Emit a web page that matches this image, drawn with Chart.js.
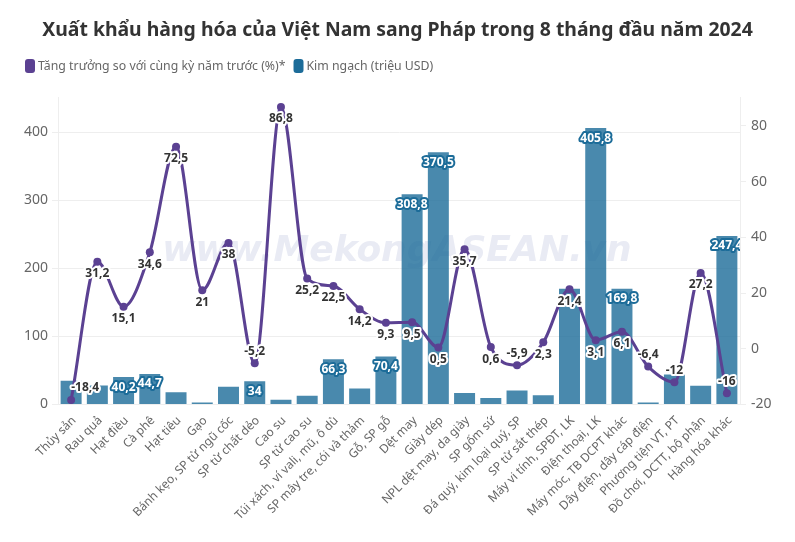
<!DOCTYPE html>
<html>
<head>
<meta charset="utf-8">
<script src="https://cdn.jsdelivr.net/npm/chart.js@4"></script>
<style>
  html, body { margin: 0; padding: 0; background: #fff; }
  canvas { display: block; }
</style>
</head>
<body>
<canvas id="myChart" width="795" height="542"></canvas>
<script>
const categories = ['Thủy sản', 'Rau quả', 'Hạt điều', 'Cà phê', 'Hạt tiêu', 'Gạo', 'Bánh kẹo, SP từ ngũ cốc', 'SP từ chất dẻo', 'Cao su', 'SP từ cao su', 'Túi xách, ví vali, mũ, ô dù', 'SP mây tre, cói và thảm', 'Gỗ, SP gỗ', 'Dệt may', 'Giày dép', 'NPL dệt may, da giày', 'SP gốm sứ', 'Đá quý, kim loại quý, SP', 'SP từ sắt thép', 'Máy vi tính, SPĐT, LK', 'Điện thoại, LK', 'Máy móc, TB DCPT khác', 'Dây điện, dây cáp điện', 'Phương tiện VT, PT', 'Đồ chơi, DCTT, bộ phận', 'Hàng hóa khác'];
const growth = [-18.4, 31.2, 15.1, 34.6, 72.5, 21, 38, -5.2, 86.8, 25.2, 22.5, 14.2, 9.3, 9.5, 0.5, 35.7, 0.6, -5.9, 2.3, 21.4, 3.1, 6.1, -6.4, -12, 27.2, -16];
const turnover = [35, 28, 40.2, 44.7, 18, 3, 26, 34, 7, 13, 66.3, 23.5, 70.4, 308.8, 370.5, 17, 9.5, 20.5, 13.5, 170, 405.8, 169.8, 3, 44, 27.5, 247.4];
const leftTicks = [0, 100, 200, 300, 400];
const rightTicks = [-20, 0, 20, 40, 60, 80];
// these bar labels are covered by the line labels in the original
const hiddenBarLabels = [0, 1, 19, 23];

const FONT = '"Noto Sans", sans-serif';
const PURPLE = '#5b4192';
const BLUE = '#1c6c99';

function fmt(v) {
  return String(v).replace('.', ',');
}

function haloText(ctx, text, x, y, halo, fill) {
  ctx.lineJoin = 'round';
  ctx.lineWidth = 4;
  ctx.strokeStyle = halo;
  ctx.strokeText(text, x, y);
  ctx.fillStyle = fill;
  ctx.fillText(text, x, y);
}

// watermark sits behind the bars
const watermark = {
  id: 'watermark',
  beforeDatasetsDraw(chart) {
    const ctx = chart.ctx;
    ctx.save();
    ctx.font = 'italic bold 36px "DejaVu Sans", sans-serif';
    ctx.fillStyle = '#e9ebf4';
    ctx.textAlign = 'center';
    ctx.textBaseline = 'middle';
    ctx.fillText('www.MekongASEAN.vn', 397, 252);
    ctx.restore();
  }
};

// no datalabels plugin on hand, so draw value labels here
const valueLabels = {
  id: 'valueLabels',
  afterDatasetsDraw(chart) {
    const ctx = chart.ctx;
    const area = chart.chartArea;
    ctx.save();
    ctx.textAlign = 'center';
    ctx.textBaseline = 'middle';
    ctx.font = 'bold 12px ' + FONT;

    ctx.save();
    ctx.beginPath();
    ctx.rect(area.left, area.top, area.right - area.left, area.bottom - area.top);
    ctx.clip();
    chart.getDatasetMeta(1).data.forEach((bar, i) => {
      if (turnover[i] < 28 || hiddenBarLabels.includes(i)) return;
      haloText(ctx, fmt(turnover[i]), bar.x, bar.y + 10, BLUE, '#fff');
    });
    ctx.restore();

    chart.getDatasetMeta(0).data.forEach((pt, i) => {
      const off = growth[i] < 0 ? -12 : 12;
      // first label gets pushed inside the plot
      const dx = i === 0 ? 14 : 0;
      haloText(ctx, fmt(growth[i]), pt.x + dx, pt.y + off, '#fff', '#333');
    });
    ctx.restore();
  }
};

// legend drawn by hand, the built-in one can't hit the tight box/text gaps
const topLegend = {
  id: 'topLegend',
  afterDraw(chart) {
    const ctx = chart.ctx;
    ctx.save();
    ctx.font = '12.3px ' + FONT;
    ctx.textBaseline = 'middle';
    let x = 25;
    chart.data.datasets.forEach((d, i) => {
      ctx.fillStyle = i === 0 ? PURPLE : BLUE;
      ctx.beginPath();
      ctx.roundRect(x, 59, 10, 14, 3);
      ctx.fill();
      ctx.fillStyle = '#666';
      ctx.fillText(d.label, x + 13, 66.5);
      x += 13 + ctx.measureText(d.label).width + 8;
    });
    ctx.restore();
  }
};

new Chart(document.getElementById('myChart'), {
  data: {
    labels: categories,
    datasets: [
      {
        type: 'line',
        label: 'Tăng trưởng so với cùng kỳ năm trước (%)*',
        data: growth,
        yAxisID: 'y1',
        borderColor: PURPLE,
        backgroundColor: PURPLE,
        borderWidth: 3,
        pointRadius: 4,
        pointBackgroundColor: PURPLE,
        pointBorderWidth: 0,
        cubicInterpolationMode: 'monotone',
        clip: false,
        order: 1
      },
      {
        type: 'bar',
        label: 'Kim ngạch (triệu USD)',
        data: turnover,
        yAxisID: 'y',
        backgroundColor: 'rgba(28,108,153,0.8)',
        borderWidth: 0,
        categoryPercentage: 1,
        barPercentage: 0.8,
        order: 2
      }
    ]
  },
  options: {
    responsive: false,
    animation: false,
    devicePixelRatio: 1,
    plugins: {
      title: {
        display: true,
        text: 'Xuất khẩu hàng hóa của Việt Nam sang Pháp trong 8 tháng đầu năm 2024',
        color: '#333',
        font: { family: FONT, size: 19.4, weight: 'bold' },
        padding: { top: 19, bottom: 55.7 }
      },
      legend: { display: false },
      tooltip: { enabled: false }
    },
    scales: {
      x: {
        grid: { display: false, drawTicks: true },
        border: { color: '#eee' },
        ticks: {
          autoSkip: false,
          maxRotation: 45,
          minRotation: 45,
          color: '#666',
          font: { family: FONT, size: 12 },
          padding: 1,
          labelOffset: 3
        },
        afterFit(s) { s.height = 137.5; }
      },
      y: {
        position: 'left',
        min: 0,
        max: 450,
        afterBuildTicks(s) { s.ticks = leftTicks.map(v => ({ value: v })); },
        grid: { color: '#eee', tickLength: 6 },
        border: { color: '#eee' },
        ticks: { color: '#666', font: { family: FONT, size: 14 }, padding: 4 },
        afterFit(s) { s.width = 58; }
      },
      y1: {
        position: 'right',
        min: -20,
        max: 90,
        afterBuildTicks(s) { s.ticks = rightTicks.map(v => ({ value: v })); },
        grid: { drawOnChartArea: false, color: '#eee', tickLength: 6 },
        border: { color: '#eee' },
        ticks: { color: '#666', font: { family: FONT, size: 14 }, padding: 5 },
        afterFit(s) { s.width = 55; }
      }
    }
  },
  plugins: [watermark, valueLabels, topLegend]
});
</script>
</body>
</html>
